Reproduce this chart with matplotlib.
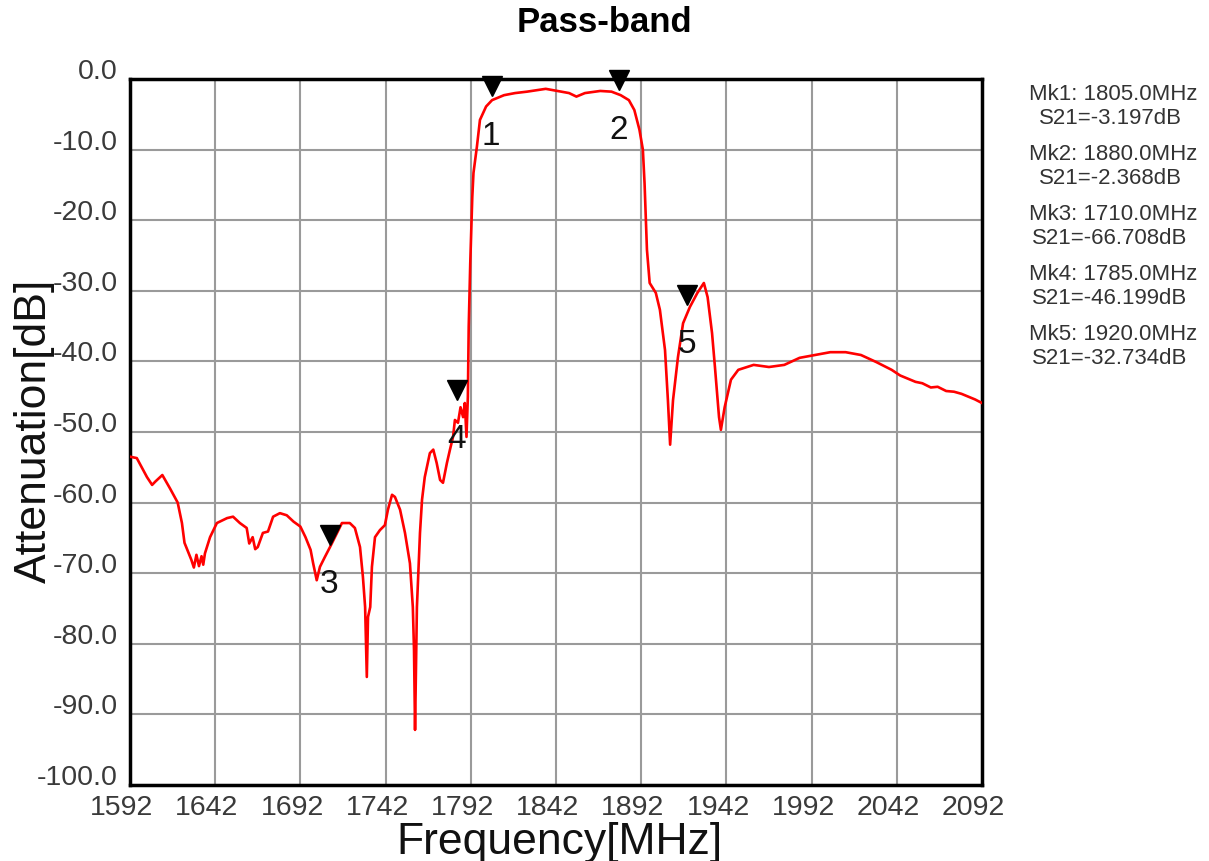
import numpy as np
import matplotlib
matplotlib.use('Agg')
from matplotlib import pyplot as plt
from matplotlib import transforms

plt.rcParams["font.family"] = ["Liberation Sans", "DejaVu Sans"]

# S21 trace, (MHz, dB) pairs
lower_stop = [
    (1592, -53.5), (1596, -53.7), (1602, -56.4), (1605, -57.5), (1607, -57.0),
    (1611, -56.1), (1615.5, -58.0), (1620, -60.0), (1622.5, -62.9), (1624, -65.7),
    (1628, -68.1), (1629.5, -69.2), (1631, -67.4), (1632.5, -69.0), (1634, -67.6),
    (1635, -68.8), (1636, -67.2), (1639, -64.9), (1643, -62.9), (1649, -62.2),
    (1652.5, -62.0), (1656.5, -62.9), (1660.5, -63.6), (1662, -65.8), (1664, -64.9),
    (1665.5, -66.6), (1667, -66.3), (1670, -64.3), (1673, -64.1), (1676, -62.0),
    (1680, -61.5), (1684, -61.8), (1688, -62.7), (1692, -63.4), (1695, -64.9),
    (1698, -66.7), (1699.5, -68.6), (1701.6, -71.0), (1703.5, -69.1), (1706.4, -67.7),
    (1709.4, -66.3), (1713.5, -64.3), (1716.4, -62.9), (1721, -62.9), (1724, -63.6),
    (1727, -66.3), (1728.7, -70.5), (1730, -74.8), (1731, -84.7), (1731.7, -76.2),
    (1733, -74.8), (1734, -69.1), (1735.8, -64.9), (1738.7, -63.9), (1741.6, -63.2),
    (1743.4, -61.0), (1745.8, -58.9), (1747.5, -59.2), (1750.5, -61.0), (1753.4, -64.3),
    (1756.3, -68.6), (1758, -74.8), (1758.7, -80.9), (1759.3, -92.2), (1760.4, -74.8),
    (1762.2, -64.3), (1763.4, -59.6), (1765, -56.4), (1768, -53.0), (1770, -52.5),
    (1772, -54.4), (1774, -56.8), (1775.7, -57.2), (1778, -54.4), (1779.8, -52.5),
    (1781.6, -50.7), (1782.7, -48.3), (1784.5, -48.7), (1786, -46.5), (1787.5, -47.9),
    (1788.5, -45.9), (1789.5, -50.7),
]
passband = [
    (1790.3, -45.0), (1790.8, -35.1), (1791.7, -26.1), (1792.9, -16.7),
    (1793.6, -13.3), (1795.6, -9.6), (1797.4, -5.8), (1801, -3.9), (1804.5, -3.0),
    (1811.5, -2.3), (1818, -2.0), (1825, -1.8), (1836, -1.4), (1843, -1.7),
    (1849.7, -2.0), (1854, -2.5), (1859, -2.0), (1868, -1.7), (1874.6, -1.8),
    (1880, -2.3), (1884.8, -3.0), (1888, -4.4), (1891, -7.2), (1893, -10.0),
    (1894, -14.8), (1895.4, -24.2), (1897, -28.9),
]
upper_stop = [
    (1900.6, -30.3), (1903, -32.7), (1906, -38.4), (1907.7, -45.5), (1909, -51.8),
    (1910.7, -45.5), (1913.6, -39.4), (1916.6, -34.6), (1920.6, -32.3), (1925, -30.3),
    (1928.8, -28.9), (1931, -30.9), (1933.6, -36.0), (1935.3, -40.8), (1937.7, -47.9),
    (1938.8, -49.7), (1941, -46.5), (1944.7, -42.6), (1949, -41.2), (1958, -40.5),
    (1967, -40.8), (1976, -40.5), (1985, -39.5), (1994, -39.1), (2003, -38.7),
    (2012, -38.7), (2021, -39.1), (2030, -40.1), (2039, -41.2), (2044, -42.0),
    (2048, -42.4), (2053, -42.9), (2057, -43.1), (2062, -43.7), (2066, -43.6),
    (2071, -44.2), (2075.6, -44.3), (2080, -44.6), (2084, -45.0), (2088, -45.4),
    (2092, -45.9),
]

mk_freq = [1805.0, 1880.0, 1710.0, 1785.0, 1920.0]
mk_s21 = [-3.197, -2.368, -66.708, -46.199, -32.734]
mk_names = ["1", "2", "3", "4", "5"]

xticks = np.arange(1592, 2093, 50)
yticks = np.arange(-100, 1, 10)

freq, s21 = zip(*(lower_stop + passband + upper_stop))

fig = plt.figure(figsize=(12.09, 8.61), dpi=100)
ax = fig.add_axes([0.1075, 0.0883, 0.7047, 0.8200])

ax.plot(freq, s21, color="#ff0000", lw=1.9, zorder=3)

# marker triangles sit just above the trace, numbers below it
tri = transforms.offset_copy(ax.transData, fig=fig, x=-1, y=11, units="points")
ax.plot(mk_freq, mk_s21, "v", color="black", ms=15, transform=tri, zorder=4,
        clip_on=False)
for f, v, n in zip(mk_freq, mk_s21, mk_names):
    ax.annotate(n, (f, v), xytext=(-1.5, -25), textcoords="offset points",
                ha="center", va="center", fontsize=24, color="#111111", zorder=5)

ax.set_xlim(1592, 2092)
ax.set_ylim(-100, 0)
ax.set_xticks(xticks)
ax.set_yticks(yticks)
ax.set_yticklabels(["%.1f" % t for t in yticks])
ax.grid(True, color="#9a9a9a", lw=1.5)
ax.set_axisbelow(True)
ax.tick_params(length=0, labelsize=20.5, labelcolor="#3a3a3a")
ax.tick_params(axis="x", pad=7)
ax.tick_params(axis="y", pad=9)
# x labels sit a little left of their gridline
shift = transforms.ScaledTranslation(-6 / 72, 0, fig.dpi_scale_trans)
for lab in ax.get_xticklabels():
    lab.set_transform(lab.get_transform() + shift)
for lab in ax.get_yticklabels():
    lab.set_verticalalignment("baseline")
for sp in ax.spines.values():
    sp.set_linewidth(2.5)
    sp.set_color("black")

ax.set_xlabel("Frequency[MHz]", fontsize=32, color="#111111", va="center")
ax.set_ylabel("Attenuation[dB]", fontsize=32, color="#111111", va="center")
ax.xaxis.set_label_coords(0.5035, -0.082)
ax.yaxis.set_label_coords(-0.1127, 0.501)

fig.text(0.5, 1 - 23 / 861, "Pass-band", ha="center", va="center",
         fontsize=25, fontweight="bold")

# marker readout on the right
for i, (f, v) in enumerate(zip(mk_freq, mk_s21)):
    y0 = 95 + 60 * i
    fig.text(1113 / 1209, 1 - y0 / 861, "Mk%d: %.1fMHz" % (i + 1, f),
             ha="center", va="center", fontsize=16, color="#333333")
    fig.text(1110 / 1209, 1 - (y0 + 23) / 861, "S21=%.3fdB" % v,
             ha="center", va="center", fontsize=16, color="#333333")

fig.savefig("out.png", dpi=100)
